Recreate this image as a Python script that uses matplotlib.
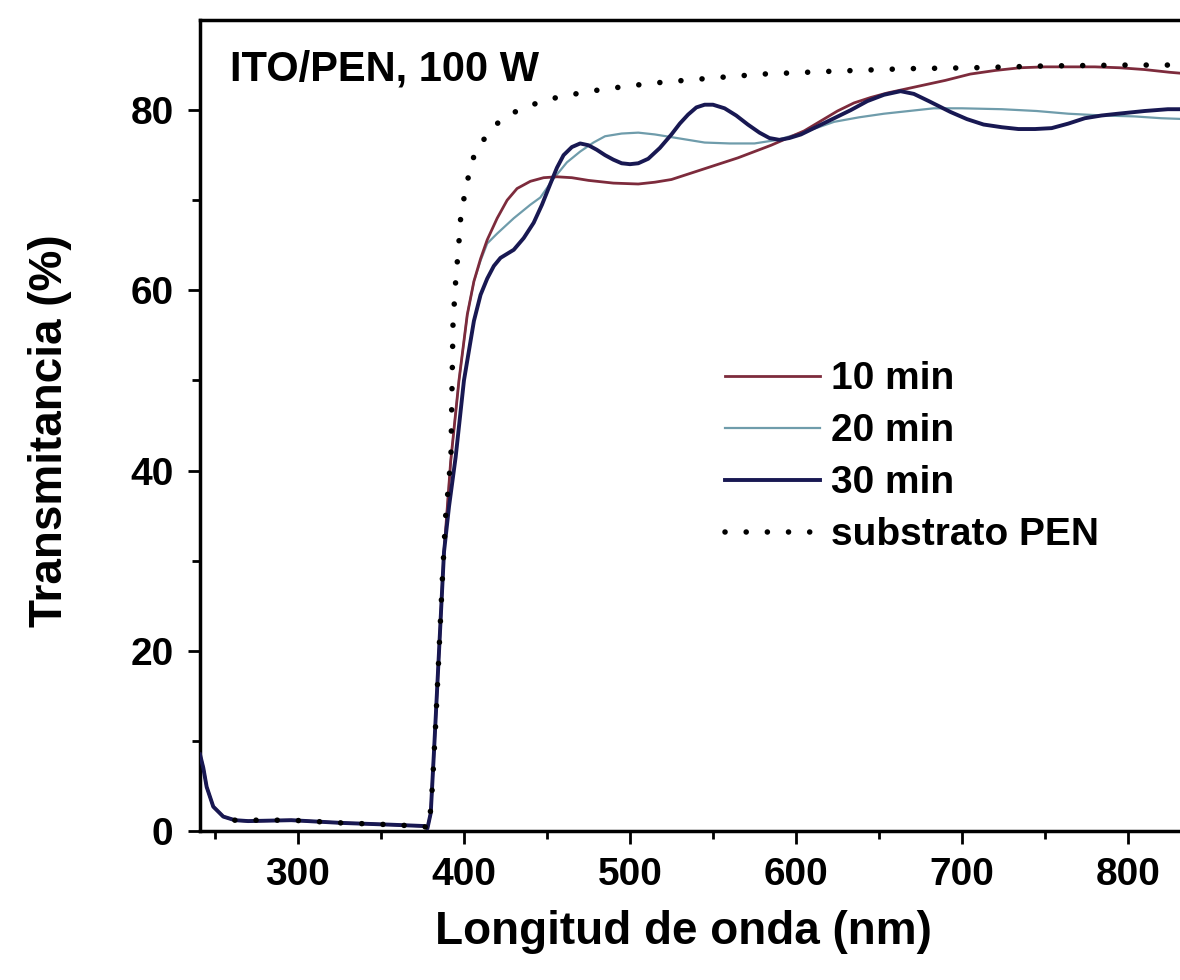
import matplotlib
matplotlib.use("Agg")
import matplotlib.pyplot as plt

plt.rcParams['font.family'] = ['Liberation Sans', 'DejaVu Sans']
plt.rcParams['font.weight'] = 'bold'

# common low part (absorption edge of PEN)
base_nm = [241, 243, 245, 249, 255, 262, 270, 296, 326, 356, 376, 378, 380, 382, 385, 388]
base_T = [8.5, 7.0, 4.9, 2.7, 1.6, 1.2, 1.1, 1.2, 0.9, 0.7, 0.55, 0.3, 2.0, 9.0, 20.0, 31.0]

nm_10 = base_nm + [392, 397, 402, 406, 410, 414, 420, 426, 432, 440, 448, 456, 465, 475,
                   490, 505, 515, 525, 535, 545, 555, 565, 575, 585, 595, 605, 615, 625,
                   635, 645, 655, 665, 675, 690, 705, 720, 735, 750, 765, 780, 795, 810,
                   825, 850]
T_10 = base_T + [41, 50, 57.3, 61, 63.5, 65.6, 68, 70, 71.3, 72.1, 72.5, 72.6, 72.5, 72.2,
                 71.9, 71.8, 72, 72.3, 72.9, 73.5, 74.1, 74.7, 75.4, 76.1, 76.9, 77.7, 78.8,
                 79.9, 80.8, 81.4, 81.9, 82.3, 82.7, 83.3, 84, 84.4, 84.7, 84.8, 84.8, 84.8,
                 84.7, 84.5, 84.2, 83.8]

nm_20 = base_nm + [392, 397, 402, 406, 410, 414, 420, 430, 440, 446, 454, 462, 470, 478,
                   485, 495, 505, 515, 525, 535, 545, 560, 575, 589, 600, 612, 623, 638,
                   653, 668, 683, 700, 724, 745, 764, 785, 804, 820, 850]
T_20 = base_T + [41, 50, 57.3, 61, 63.3, 65.2, 66.3, 68, 69.5, 70.3, 72.4, 74.2, 75.4, 76.4,
                 77.1, 77.4, 77.5, 77.3, 77, 76.7, 76.4, 76.3, 76.3, 76.7, 77.3, 78, 78.7,
                 79.2, 79.6, 79.9, 80.2, 80.2, 80.1, 79.9, 79.6, 79.4, 79.3, 79.1, 78.9]

nm_30 = base_nm + [391, 395, 400, 406, 410, 414, 418, 422, 430, 436, 442, 447, 452, 456,
                   460, 465, 470, 475, 480, 485, 490, 495, 500, 505, 511, 518, 525, 530,
                   535, 540, 545, 550, 557, 564, 571, 578, 584, 590, 596, 603, 613, 623,
                   633, 643, 653, 663, 671, 680, 693, 703, 713, 724, 734, 744, 754, 764,
                   774, 784, 794, 810, 824, 850]
T_30 = base_T + [36, 41.5, 50, 56.6, 59.5, 61.3, 62.7, 63.6, 64.5, 65.8, 67.5, 69.5, 71.8,
                 73.6, 75, 75.9, 76.3, 76.1, 75.6, 75, 74.5, 74.1, 74, 74.1, 74.6, 75.8,
                 77.3, 78.5, 79.5, 80.3, 80.6, 80.6, 80.2, 79.4, 78.4, 77.5, 76.9, 76.7,
                 76.9, 77.3, 78.2, 79.1, 80, 81, 81.7, 82.1, 81.8, 81, 79.8, 79, 78.4, 78.1,
                 77.9, 77.9, 78, 78.5, 79.1, 79.4, 79.6, 79.9, 80.1, 80.1]

nm_pen = [262, 296, 326, 356, 376, 379, 381, 383, 385, 387, 389, 391, 392.2, 393.4, 395,
          397, 398, 400, 402.4, 406, 410, 414.5, 420, 425, 432, 438, 451, 464, 480, 500,
          520, 552, 580, 620, 667, 707, 750, 800, 850]
T_pen = [1.2, 1.2, 0.9, 0.7, 0.5, 0.3, 5, 12, 20, 28, 35, 39, 42, 56.3, 61, 65.4, 68, 70.2,
         72.4, 74.9, 76.3, 77.3, 78.5, 79.3, 79.9, 80.4, 81.2, 81.7, 82.2, 82.7, 83.1, 83.6,
         84, 84.3, 84.6, 84.7, 84.9, 85, 85]

fig = plt.figure(figsize=(11.8, 9.8), dpi=100)
ax = fig.add_axes([200/1180, 149/980, 1011/1180, 811/980])

ax.plot(nm_10, T_10, color='#7d2b3c', lw=2.0, label='10 min', zorder=3)
ax.plot(nm_20, T_20, color='#6f9cab', lw=1.6, label='20 min', zorder=2)
ax.plot(nm_30, T_30, color='#181852', lw=2.8, label='30 min', zorder=4)
ax.plot(nm_pen, T_pen, color='black', lw=4.0, dashes=(0.01, 3.8),
        dash_capstyle='round', label='substrato PEN', zorder=5)

ax.set_xlim(241, 850)
ax.set_ylim(0, 90)
ax.set_xticks([300, 400, 500, 600, 700, 800])
ax.set_xticks(range(250, 850, 100), minor=True)
ax.set_yticks([0, 20, 40, 60, 80])
ax.set_yticks([10, 30, 50, 70], minor=True)

for s in ax.spines.values():
    s.set_linewidth(2.5)
ax.tick_params(which='major', direction='out', length=9, width=2, labelsize=28, pad=10,
               top=False, right=False)
ax.tick_params(which='minor', direction='out', length=6, width=2, top=False, right=False)

ax.set_xlabel('Longitud de onda (nm)', fontsize=33, fontweight='bold')
ax.xaxis.set_label_coords(0.478, -0.098)
ax.set_ylabel('Transmitancia (%)', fontsize=33, fontweight='bold')
ax.yaxis.set_label_coords(-0.127, 0.494)

ax.text(0.03, 0.926, 'ITO/PEN, 100 W', transform=ax.transAxes, fontsize=30,
        fontweight='bold', va='baseline', ha='left')

ax.legend(loc='upper left', bbox_to_anchor=(0.519, 0.579), frameon=False, fontsize=28,
          handlelength=2.44, handletextpad=0.3, labelspacing=0.41, borderpad=0,
          borderaxespad=0)

fig.savefig('out.png', dpi=100)
